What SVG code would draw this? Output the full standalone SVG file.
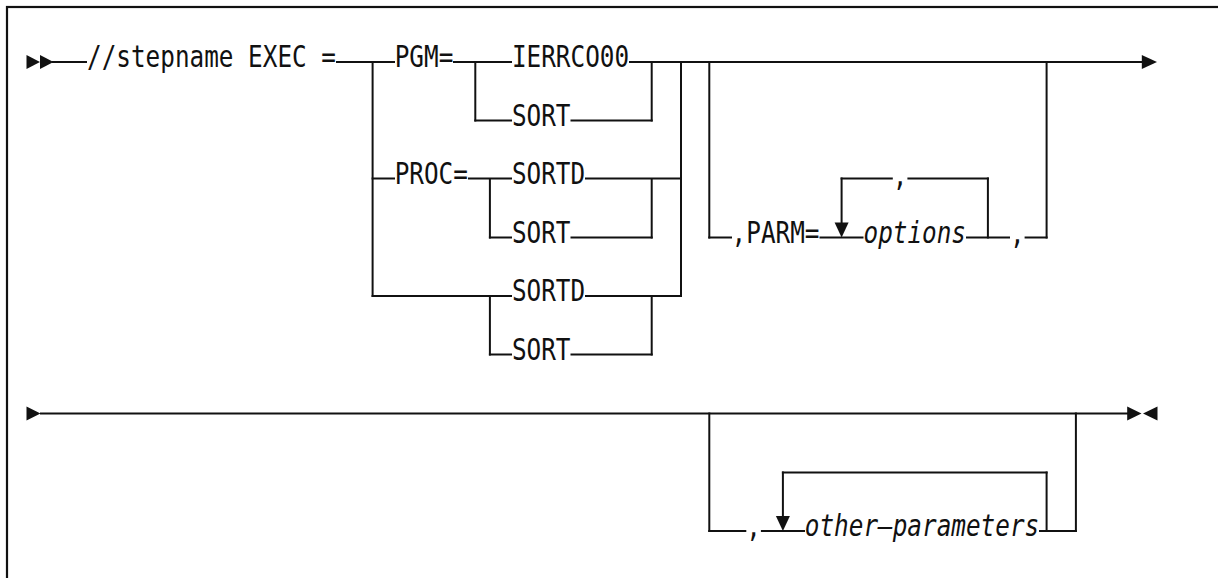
<svg xmlns="http://www.w3.org/2000/svg" width="1218" height="578" viewBox="0 0 1218 578">
<style>
.t{font-family:"DejaVu Sans Mono","Liberation Mono",monospace;font-size:30px;fill:#111}
.i{font-style:italic}
.c line{stroke:#111;stroke-width:2;fill:none}
.c polygon{fill:#111;stroke:none}
</style>
<rect x="7" y="7" width="1300" height="700" fill="#fff" stroke="#111" stroke-width="2.2"/>
<g id="connectors" class="c">
<polygon points="26.5,55 40,62 26.5,69"/>
<polygon points="40,55 53.5,62 40,69"/>
<line x1="52" y1="62" x2="87" y2="62"/>
<line x1="336" y1="62" x2="395" y2="62"/>
<line x1="453" y1="62" x2="512" y2="62"/>
<line x1="629" y1="62" x2="1143" y2="62"/>
<polygon points="1141.8,55 1157,62 1141.8,69"/>
<line x1="372.6" y1="61" x2="372.6" y2="297"/>
<line x1="681" y1="61" x2="681" y2="297"/>
<line x1="475.3" y1="61" x2="475.3" y2="121.5"/>
<line x1="474.3" y1="120.5" x2="512" y2="120.5"/>
<line x1="570.5" y1="120.5" x2="652.7" y2="120.5"/>
<line x1="651.7" y1="61" x2="651.7" y2="121.5"/>
<line x1="371.6" y1="178.5" x2="395" y2="178.5"/>
<line x1="468" y1="178.5" x2="512" y2="178.5"/>
<line x1="585" y1="178.5" x2="682" y2="178.5"/>
<line x1="489.9" y1="178.5" x2="489.9" y2="238.5"/>
<line x1="651.7" y1="178.5" x2="651.7" y2="238.5"/>
<line x1="488.9" y1="237.5" x2="512" y2="237.5"/>
<line x1="570.5" y1="237.5" x2="652.7" y2="237.5"/>
<line x1="371.6" y1="296" x2="512" y2="296"/>
<line x1="585" y1="296" x2="682" y2="296"/>
<line x1="489.9" y1="296" x2="489.9" y2="355.5"/>
<line x1="651.7" y1="296" x2="651.7" y2="355.5"/>
<line x1="488.9" y1="354.5" x2="512" y2="354.5"/>
<line x1="570.5" y1="354.5" x2="652.7" y2="354.5"/>
<line x1="709.3" y1="61" x2="709.3" y2="238.5"/>
<line x1="708.3" y1="237.5" x2="732" y2="237.5"/>
<line x1="819.5" y1="237.5" x2="863.5" y2="237.5"/>
<line x1="966" y1="237.5" x2="1010" y2="237.5"/>
<line x1="1024.6" y1="237.5" x2="1047.6" y2="237.5"/>
<line x1="1046.6" y1="61" x2="1046.6" y2="238.5"/>
<line x1="841.6" y1="177.5" x2="841.6" y2="223"/>
<polygon points="834.6,222.5 848.6,222.5 841.6,237.5"/>
<line x1="840.6" y1="178.5" x2="892.8" y2="178.5"/>
<line x1="907.4" y1="178.5" x2="988.9" y2="178.5"/>
<line x1="987.9" y1="177.5" x2="987.9" y2="238.5"/>
<polygon points="26.5,406.5 40.5,413.5 26.5,420.5"/>
<line x1="40" y1="413.5" x2="1128" y2="413.5"/>
<polygon points="1127.2,406.5 1141.5,413.5 1127.2,420.5"/>
<polygon points="1157.5,406.5 1143,413.5 1157.5,420.5"/>
<line x1="709.3" y1="412.5" x2="709.3" y2="532"/>
<line x1="708.3" y1="531" x2="746.3" y2="531"/>
<line x1="760.9" y1="531" x2="805" y2="531"/>
<line x1="782.9" y1="471.5" x2="782.9" y2="516.5"/>
<polygon points="775.9,516 789.9,516 782.9,531"/>
<line x1="781.9" y1="472.5" x2="1047.6" y2="472.5"/>
<line x1="1046.6" y1="471.5" x2="1046.6" y2="532"/>
<line x1="1039" y1="531" x2="1076.9" y2="531"/>
<line x1="1075.9" y1="412.5" x2="1075.9" y2="532"/>
</g>
<g id="n-start"><text class="t" x="87" y="67.3" textLength="249" lengthAdjust="spacingAndGlyphs">//stepname EXEC =</text></g>
<g id="n-pgm"><text class="t" x="394.7" y="67.3" textLength="58.6" lengthAdjust="spacingAndGlyphs">PGM=</text></g>
<g id="n-ierrco00"><text class="t" x="511.9" y="67.3" textLength="117.2" lengthAdjust="spacingAndGlyphs">IERRCO00</text></g>
<g id="n-pgm-sort"><text class="t" x="511.9" y="125.8" textLength="58.6" lengthAdjust="spacingAndGlyphs">SORT</text></g>
<g id="n-proc"><text class="t" x="394.7" y="183.8" textLength="73.2" lengthAdjust="spacingAndGlyphs">PROC=</text></g>
<g id="n-proc-sortd"><text class="t" x="511.9" y="183.8" textLength="73.2" lengthAdjust="spacingAndGlyphs">SORTD</text></g>
<g id="n-proc-sort"><text class="t" x="511.9" y="242.8" textLength="58.6" lengthAdjust="spacingAndGlyphs">SORT</text></g>
<g id="n-sortd"><text class="t" x="511.9" y="301.3" textLength="73.2" lengthAdjust="spacingAndGlyphs">SORTD</text></g>
<g id="n-sort"><text class="t" x="511.9" y="359.8" textLength="58.6" lengthAdjust="spacingAndGlyphs">SORT</text></g>
<g id="n-parm"><text class="t" x="731.6" y="242.8" textLength="87.9" lengthAdjust="spacingAndGlyphs">,PARM=</text></g>
<g id="n-options"><text class="t i" x="863.5" y="242.8" textLength="102.5" lengthAdjust="spacingAndGlyphs">options</text></g>
<g id="n-options-sep"><text class="t" x="892.8" y="185.5" textLength="14.65" lengthAdjust="spacingAndGlyphs">,</text></g>
<g id="n-parm-comma"><text class="t" x="1010" y="243.5" textLength="14.65" lengthAdjust="spacingAndGlyphs">,</text></g>
<g id="n-other-comma"><text class="t" x="746.3" y="537" textLength="14.65" lengthAdjust="spacingAndGlyphs">,</text></g>
<g id="n-other"><text class="t i" x="804.8" y="536.3" textLength="234.4" lengthAdjust="spacingAndGlyphs">other—parameters</text></g>
</svg>
